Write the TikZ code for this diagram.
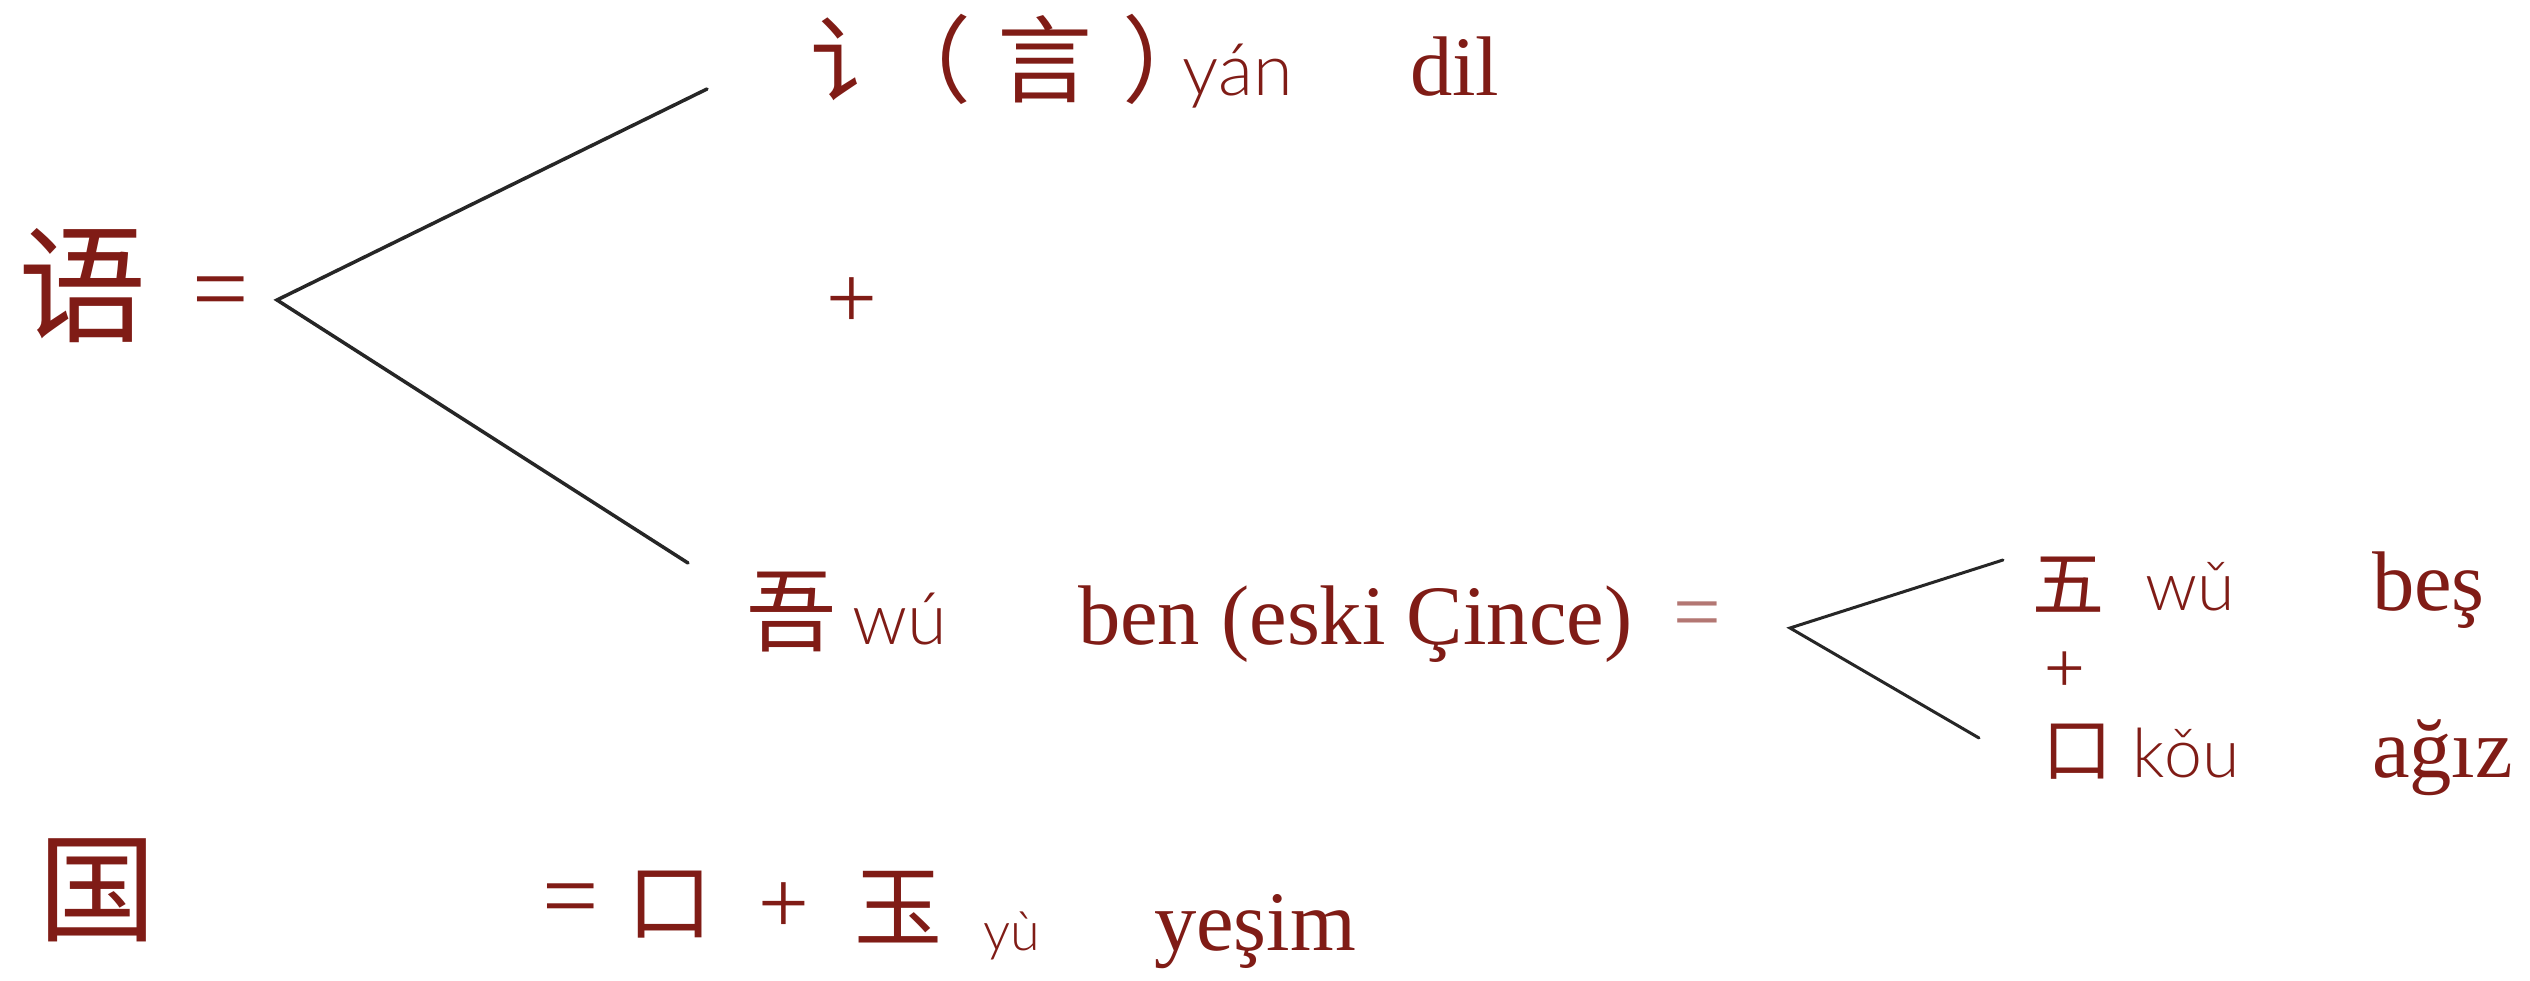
\documentclass[tikz,border=0pt]{standalone}
\usepackage{fontspec}
\setmainfont{Liberation Serif}
\newfontfamily\cjk{Noto Sans CJK SC}
\newfontfamily\cjkhalf[RawFeature=+halt]{Noto Sans CJK SC}
\newfontfamily\pyf[Kerning=Off]{Lato Light}
\definecolor{ink}{RGB}{128,28,22}
\newcommand\setfs[1]{\fontsize{#1}{#1}\selectfont}
\begin{document}
\begin{tikzpicture}[x=1pt,y=-1pt,
  txt/.style={inner sep=0pt, outer sep=0pt, text=ink},
  han/.style={txt, font=\cjk\setfs{#1}},
  lat/.style={txt, font=\rmfamily\setfs{#1}},
  pin/.style={txt, font=\pyf\setfs{#1}},
  ln/.style={line width=3.5pt, draw=black!85, line cap=round}]
\useasboundingbox (0,0) rectangle (2530,980);
\fill[white] (0,0) rectangle (2530,980);
% ---- first word
\node[han=128] (yu) at (82,286) {语};
\node[lat=100] (eqA) at (221,300) {=};
\coordinate (vA) at (277,300);
\coordinate (tA) at (707,89);
\coordinate (bA) at (688,563);
\draw[ln] (tA) -- (vA) -- (bA);
% top branch
\node[han=95, anchor=base west] (rad) at (810,95) {讠};
\node[han=95, anchor=base west] (lp) at (876,95) {（};
\node[han=95, anchor=base west] (yan) at (997,95) {言};
\node[txt, font=\cjkhalf\setfs{95}, anchor=base west] (rp) at (1122,95) {）};
\node[pin=72, anchor=base west] (pyyan) at (1182,95) {yán};
\node[lat=84.6, anchor=base west] (dil) at (1410,95) {dil};
\node[lat=90] (plA) at (852,303) {+};
% bottom branch
\node[han=90] (wu) at (791,612) {吾};
\node[pin=72, anchor=base west] (pywu) at (852,644) {wú};
\node[lat=84.6, anchor=base west] (ben) at (1078,644) {ben (eski Çince)};
\node[lat=84.6, text=ink!60] (eqB) at (1697,621) {=};
\coordinate (vB) at (1790,628);
\coordinate (tB) at (2003,560);
\coordinate (bB) at (1979,738);
\draw[ln, line width=3pt] (tB) -- (vB) -- (bB);
\node[han=72] (five) at (2068,585) {五};
\node[pin=68, anchor=base west] (pywu3) at (2145,610) {wǔ};
\node[lat=84.6, anchor=base west] (bes) at (2372,610) {beş};
\node[lat=72] (plB) at (2065,672) {+};
\node[han=70] (kou) at (2077,752) {口};
\node[pin=68, anchor=base west] (pykou) at (2132,777) {kǒu};
\node[lat=84.6, anchor=base west] (agiz) at (2372,777) {ağız};
% ---- second word
\node[han=118] (guo) at (97,890) {国};
\node[lat=100] (eqC) at (571,907) {=};
\node[han=85] (kou2) at (670,905) {口};
\node[lat=90] (plC) at (784,908) {+};
\node[han=88] (jade) at (898,907) {玉};
\node[pin=54, anchor=base west] (pyyu) at (983,950) {yù};
\node[lat=84.6, anchor=base west] (yesim) at (1154,950) {yeşim};
\end{tikzpicture}
\end{document}
